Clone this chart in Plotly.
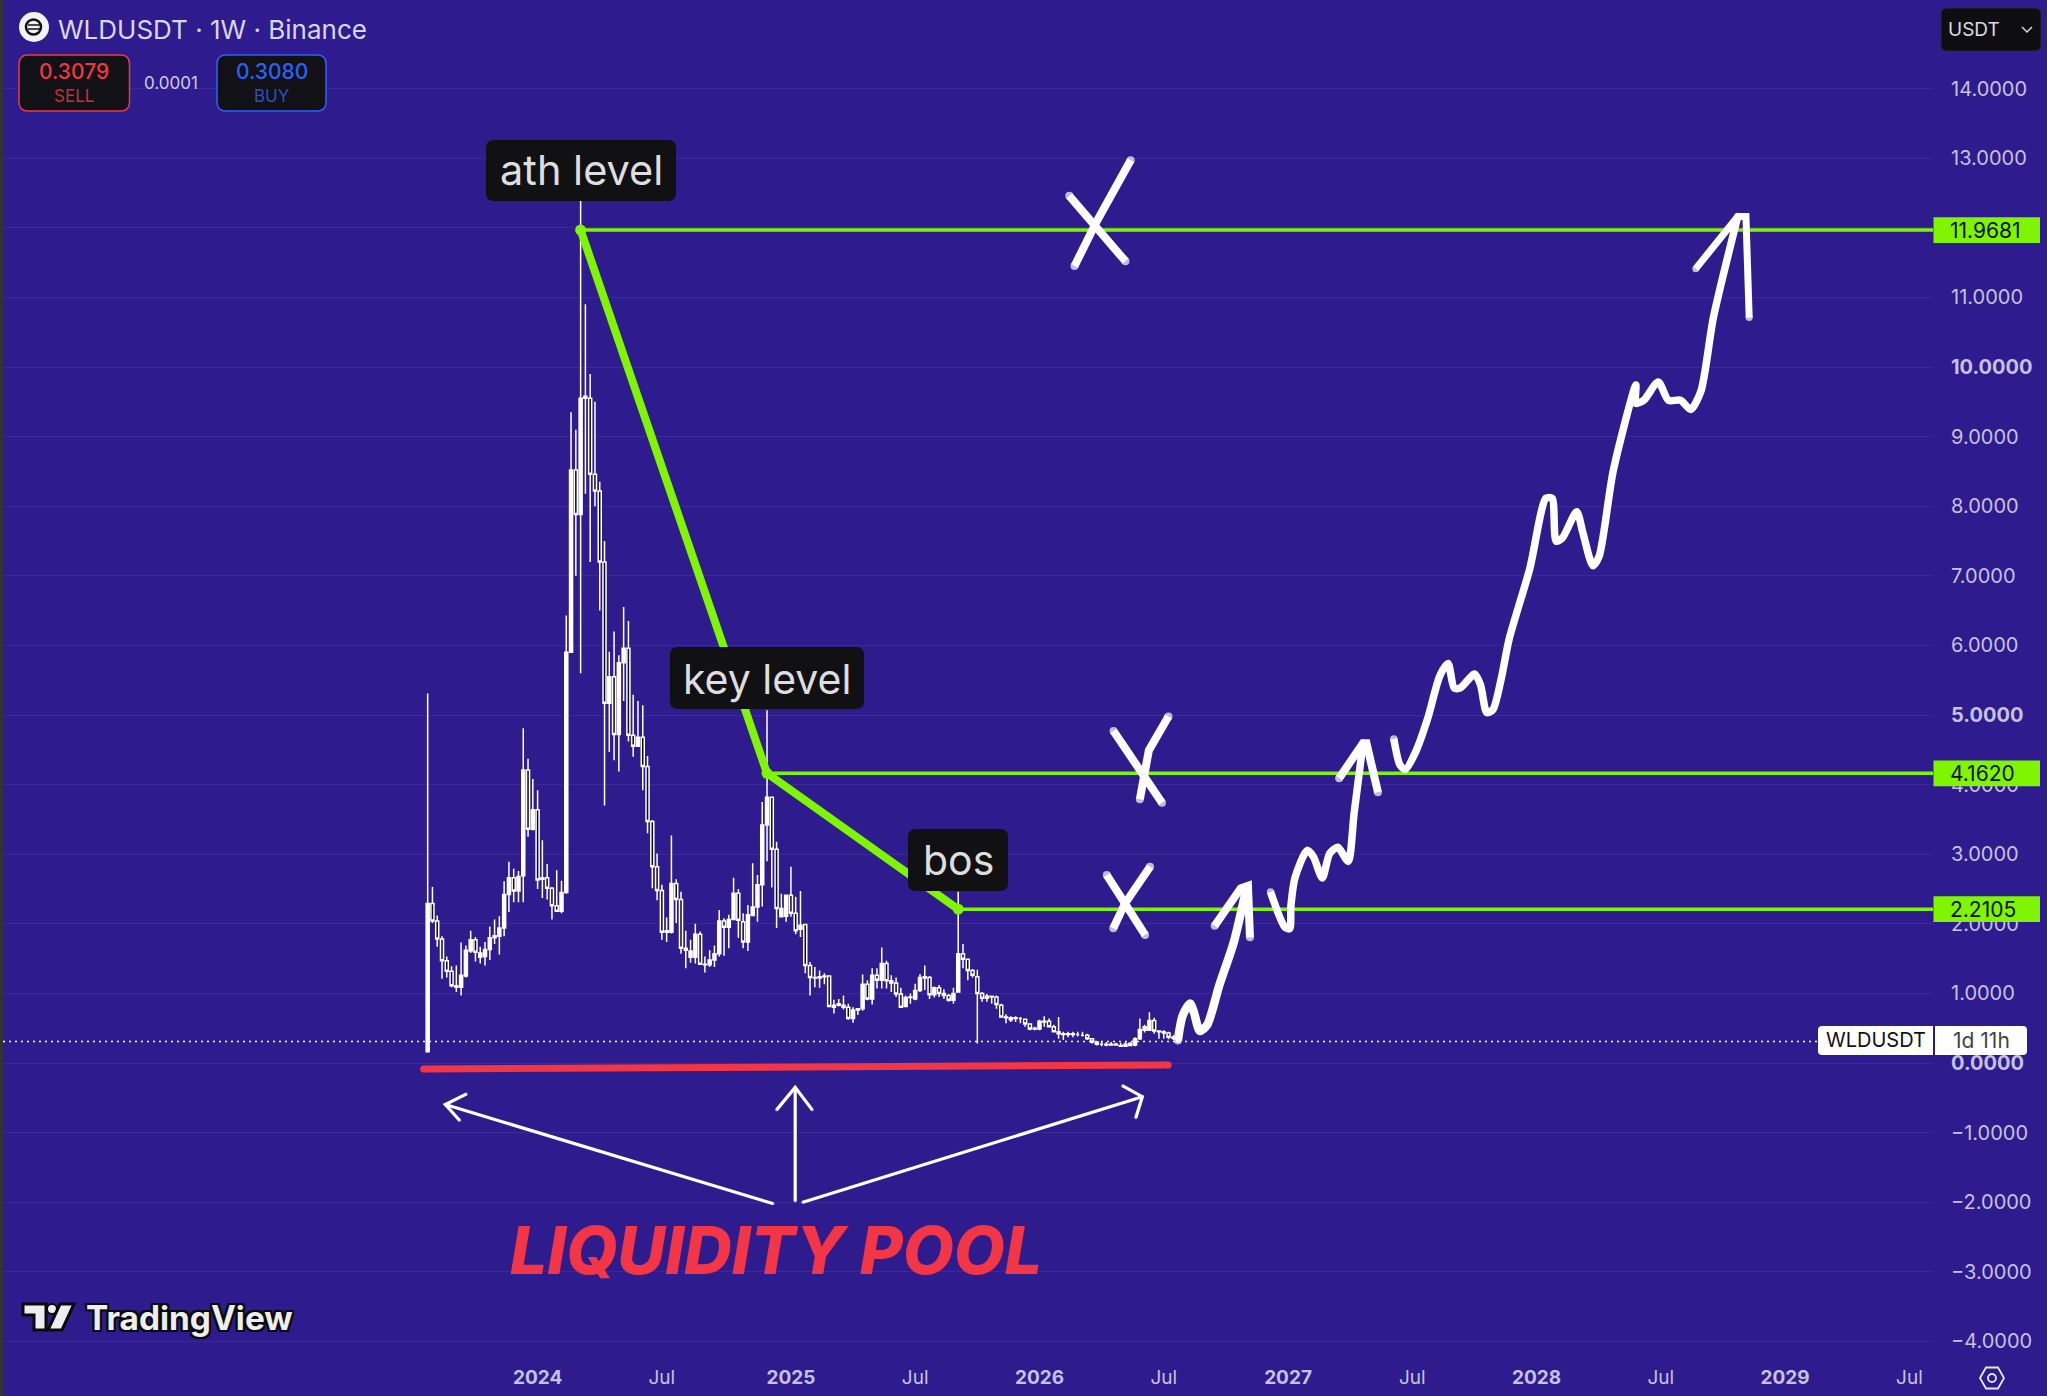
import pandas as pd
import plotly.graph_objects as go

# weekly candles WLDUSDT
first_week = "2023-07-24"
opens = [.16,2.29,2.04,1.78,1.47,1.32,1.09,1.09,1.25,1.61,1.77,1.52,1.53,1.63,1.80,1.82,1.94,2.42,2.66,2.47,
         2.69,4.21,3.36,3.64,2.64,2.66,2.51,2.26,2.18,2.45,5.90,8.52,7.88,9.55,9.55,8.46,8.22,7.20,5.17,5.55,
         4.72,5.75,5.96,4.71,4.55,4.68,4.26,3.47,2.82,2.48,1.88,1.88,2.58,2.35,1.65,1.52,1.52,1.85,1.42,1.41,
         1.48,1.57,2.04,1.95,2.06,2.44,2.03,1.74,2.12,2.24,2.56,3.42,3.82,3.07,2.10,2.11,2.41,2.15,1.92,1.99,
         1.40,1.23,1.22,1.24,1.25,.80,.83,.83,.80,.64,.76,.78,1.13,.92,1.26,1.19,1.43,1.18,1.15,.99,
         .81,.94,.92,1.04,1.22,1.23,.98,1.08,1.00,.97,.90,1.02,1.57,1.49,1.33,1.24,1.00,.93,.96,.95,
         .83,.66,.62,.65,.64,.63,.56,.50,.49,.59,.60,.52,.45,.42,.41,.42,.41,.40,.40,.35,
         .30,.27,.27,.26,.27,.25,.24,.25,.26,.35,.47,.47,.61,.46,.45,.43,.37,.36]
highs = [5.31,2.53,2.12,1.82,1.53,1.39,1.40,1.73,1.69,1.90,1.81,1.67,1.74,1.96,2.06,2.11,2.61,2.89,2.79,2.76,
         4.81,4.37,4.08,3.92,3.20,2.86,2.53,2.77,2.62,6.43,9.35,9.10,12.40,10.90,9.90,9.50,8.35,7.50,5.91,6.20,
         5.86,6.55,6.35,5.29,5.20,5.14,4.41,3.49,3.01,2.56,2.09,3.27,2.64,2.46,1.90,1.77,2.00,1.89,1.53,1.62,
         1.69,2.20,2.08,2.13,2.66,2.50,2.15,2.27,2.87,2.70,3.75,5.07,3.83,3.18,2.43,2.42,2.82,2.39,2.47,2.00,
         1.45,1.38,1.33,1.29,1.26,.91,.92,.97,.85,.80,.78,1.27,1.19,1.36,1.36,1.66,1.47,1.26,1.23,1.08,
         .97,1.00,1.14,1.28,1.40,1.25,1.10,1.12,1.06,.99,1.08,2.46,1.71,1.50,1.35,1.34,1.02,.99,.97,.97,
         .85,.70,.67,.67,.66,.64,.57,.52,.62,.67,.64,.55,.66,.45,.45,.45,.45,.45,.42,.36,
         .31,.30,.30,.30,.29,.29,.30,.30,.37,.64,.55,.73,.65,.47,.47,.45,.40,.38]
lows = [.16,2.01,1.67,1.21,1.23,1.09,1.02,.97,1.23,1.58,1.46,1.43,1.40,1.48,1.71,1.56,1.82,2.17,2.31,2.31,
        2.31,3.25,3.34,2.50,2.37,2.35,2.06,2.17,2.15,2.43,5.90,7.00,5.60,8.18,7.20,8.00,6.50,3.70,4.47,4.35,
        4.19,5.20,4.62,4.40,4.54,3.92,3.30,2.51,2.34,1.77,1.74,1.86,2.01,1.57,1.36,1.44,1.43,1.41,1.30,1.38,
        1.38,1.53,1.54,1.65,2.05,1.80,1.65,1.61,2.11,2.03,2.25,2.90,2.52,1.94,2.09,2.03,2.10,1.85,1.81,1.29,
        .97,1.09,1.08,1.13,.80,.71,.81,.77,.62,.58,.69,.75,.90,.84,1.07,1.07,1.07,1.02,.95,.80,
        .80,.85,.90,1.02,1.05,.92,.94,.95,.92,.88,.85,1.02,1.36,1.19,1.23,.28,.88,.88,.85,.78,
        .65,.57,.59,.59,.57,.52,.47,.47,.47,.52,.51,.44,.35,.33,.37,.37,.38,.38,.33,.28,
        .25,.24,.24,.25,.25,.23,.23,.24,.24,.33,.44,.46,.42,.35,.35,.34,.33,.29]
closes = [2.29,2.04,1.78,1.47,1.32,1.11,1.11,1.26,1.62,1.77,1.59,1.58,1.63,1.80,1.83,1.94,2.42,2.66,2.47,2.68,
          4.21,3.36,3.64,2.63,2.66,2.51,2.26,2.18,2.45,5.90,8.52,7.88,9.55,9.58,8.46,8.22,7.20,5.17,5.55,4.72,
          5.75,5.96,4.71,4.55,4.68,4.26,3.47,2.82,2.48,1.88,1.90,2.58,2.35,1.65,1.62,1.61,1.85,1.42,1.41,1.48,
          1.57,2.04,1.95,2.06,2.44,2.05,1.74,2.13,2.24,2.56,3.42,3.82,3.07,2.22,2.22,2.41,2.15,1.90,1.98,1.40,
          1.23,1.22,1.24,1.25,.81,.83,.85,.80,.64,.76,.78,1.13,.92,1.26,1.19,1.43,1.18,1.15,.99,.80,
          .94,.95,1.04,1.23,1.24,.98,1.08,1.00,.97,.90,1.00,1.57,1.49,1.33,1.26,1.00,.93,.96,.95,.84,
          .66,.65,.65,.64,.64,.56,.49,.49,.60,.60,.52,.45,.42,.41,.42,.41,.41,.40,.35,.30,
          .27,.27,.26,.27,.26,.24,.27,.28,.35,.48,.52,.61,.46,.45,.43,.37,.36,.31]

price_ticks = list(range(-4, 15))
bold_prices = [0, 5, 10]
hidden_prices = [12]  # sits under the 11.9681 tag
# tradingview puts the labels on the first weekly bar of the period
date_ticks = ["2024-01-01","2024-07-01","2025-01-06","2025-07-07","2026-01-05","2026-07-06",
              "2027-01-04","2027-07-05","2028-01-03","2028-07-03","2029-01-01","2029-07-02"]
date_labels = ["<b>2024</b>","Jul","<b>2025</b>","Jul","<b>2026</b>","Jul",
               "<b>2027</b>","Jul","<b>2028</b>","Jul","<b>2029</b>","Jul"]

levels = [11.9681, 4.1620, 2.2105]
last_price = 0.3079

# freehand drawing, in decimal years and price
rise_yr = [2026.579,2026.598,2026.628,2026.644,2026.667,2026.697,2026.746,2026.804,2026.853]
rise_p = [.328,.680,.856,.724,.460,.548,1.120,1.735,2.483]
rise_head_yr = [2026.727,2026.832,2026.861,2026.869]
rise_head_p = [1.973,2.510,2.545,1.806]
mid_yr = [2026.952,2027.009,2027.029,2027.034,2027.050,2027.099,2027.124,2027.160,2027.190,2027.223,2027.264,2027.288,2027.324]
mid_p = [2.457,1.955,1.929,2.263,2.659,3.055,2.967,2.659,3.011,3.099,2.897,3.583,4.595]
mid_head_yr = [2027.228,2027.324,2027.338,2027.384]
mid_head_p = [4.093,4.595,4.595,3.891]
top_yr = [2027.448,2027.472,2027.494,2027.535,2027.584,2027.633,2027.666,2027.691,2027.715,2027.773,2027.797,2027.822,
          2027.847,2027.880,2027.912,2027.995,2028.060,2028.085,2028.101,2028.126,2028.184,2028.208,2028.249,2028.274,
          2028.331,2028.422,2028.422,2028.454,2028.512,2028.553,2028.602,2028.643,2028.684,2028.734,2028.832]
top_p = [4.656,4.287,4.216,4.463,4.947,5.563,5.739,5.387,5.387,5.589,5.431,5.035,
         5.079,5.519,6.091,7.102,8.114,8.114,7.498,7.542,7.921,7.630,7.146,7.278,
         8.510,9.742,9.478,9.522,9.786,9.522,9.522,9.390,9.654,10.710,12.161]
top_head_yr = [2028.663,2028.832,2028.865,2028.873,2028.878]
top_head_p = [11.413,12.161,12.161,11.237,10.710]

cross_strokes = [
    ([2026.142,2026.368],[12.46,11.52]),
    ([2026.163,2026.252,2026.389],[11.45,12.09,12.97]),
    ([2026.320,2026.515],[4.77,3.74]),
    ([2026.426,2026.462,2026.541],[3.79,4.49,4.98]),
    ([2026.293,2026.447],[2.70,1.84]),
    ([2026.319,2026.366,2026.467],[1.935,2.29,2.82]),
]
thin_arrows = [
    ([2024.949,2023.631],[-2.02,-.597]),
    ([2023.715,2023.631,2023.688],[-.447,-.597,-.822]),
    ([2025.070,2026.436],[-2.00,-.484]),
    ([2026.357,2026.436,2026.410],[-.33,-.484,-.784]),
    ([2025.039,2025.039],[-1.98,-.35]),
    ([2024.965,2025.039,2025.107],[-.67,-.35,-.67]),
]
red_yr = [2023.544,2026.540]
red_p = [-.086,-.029]

BG = "#2e1c8e"
GRID = "#3a2a98"
TICK = "#c6c1de"
GREEN = "#7ff500"
RED = "#f23645"
BLUE = "#2962ff"
W, H = 2047, 1396
L, R, B = 3, 114, 44
PX_YEAR = 249.4
YEAR0_PX = 537.6
PX_UNIT = 69.6
ZERO_PX = 1063


def axis_date(px):
    return pd.Timestamp("2024-01-01") + pd.Timedelta(days=(px - YEAR0_PX) / PX_YEAR * 365.25)


def yr(v):
    # the sketch was read at 248.5 px per year from x=537
    return axis_date(537 + (v - 2024) * 248.5)


def yrs(vals):
    return [yr(v) for v in vals]


def xp(px):
    return (px - L) / (W - L - R)


def yp(py):
    return (H - B - py) / (H - B)


def box(x0, y0, x1, y1, r, fill, line=None, lw=1.5):
    a, b, c, d = x0, y0, x1, y1
    path = (f"M{xp(a + r)},{yp(b)} L{xp(c - r)},{yp(b)} Q{xp(c)},{yp(b)} {xp(c)},{yp(b + r)} "
            f"L{xp(c)},{yp(d - r)} Q{xp(c)},{yp(d)} {xp(c - r)},{yp(d)} L{xp(a + r)},{yp(d)} "
            f"Q{xp(a)},{yp(d)} {xp(a)},{yp(d - r)} L{xp(a)},{yp(b + r)} Q{xp(a)},{yp(b)} {xp(a + r)},{yp(b)} Z")
    return dict(type="path", path=path, xref="paper", yref="paper", fillcolor=fill, layer="above",
                line=dict(color=line or fill, width=lw if line else 0))


def poly(points, fill=None, color="white", lw=2):
    path = "M" + " L".join(f"{xp(x)},{yp(y)}" for x, y in points)
    if fill:
        path += " Z"
    return dict(type="path", path=path, xref="paper", yref="paper", layer="above",
                fillcolor=fill or "rgba(0,0,0,0)", line=dict(color=color, width=lw))


def txt(text, px, py, size, color, weight=400, anchor="center", style="normal", shadow=None):
    return dict(text=text, x=xp(px), y=yp(py), xref="paper", yref="paper", showarrow=False, xanchor=anchor,
                yanchor="middle", font=dict(family="Inter", size=size, color=color, weight=weight, style=style,
                                            shadow=shadow or "none"))


def sketch(fig, xs, ys, width, smooth=True):
    # little dots on the ends so the pen strokes have round tips
    sizes = [width] + [0] * (len(xs) - 2) + [width]
    fig.add_trace(go.Scatter(x=yrs(xs), y=ys, mode="lines+markers", hoverinfo="skip",
                             line=dict(color="white", width=width, shape="spline" if smooth else "linear", smoothing=0.7),
                             marker=dict(color="white", size=sizes, line=dict(width=0))))


dates = pd.date_range(first_week, periods=len(opens), freq="7D")

fig = go.Figure()
fig.add_trace(go.Candlestick(x=dates, open=opens, high=highs, low=lows, close=closes, whiskerwidth=0,
                             increasing=dict(fillcolor="white", line=dict(color="white", width=1.5)),
                             decreasing=dict(fillcolor="#0d0d14", line=dict(color="white", width=1.5)),
                             hoverinfo="skip"))

# last price dotted line
fig.add_trace(go.Scatter(x=[axis_date(L), axis_date(W - R)], y=[last_price, last_price], mode="lines", hoverinfo="skip",
                         line=dict(color="white", width=1.5, dash="2px,4px")))

# level lines + green zigzag
ath_i, key_i, bos_i = 32, 71, 111
anchors = [dates[ath_i], dates[key_i], dates[bos_i]]
for d, lev in zip(anchors, levels):
    fig.add_trace(go.Scatter(x=[d, axis_date(W - R)], y=[lev, lev], mode="lines", hoverinfo="skip",
                             line=dict(color=GREEN, width=3.5)))
fig.add_trace(go.Scatter(x=anchors, y=levels, mode="lines+markers", hoverinfo="skip",
                         line=dict(color=GREEN, width=8), marker=dict(color=GREEN, size=11)))

# red liquidity line
fig.add_trace(go.Scatter(x=yrs(red_yr), y=red_p, mode="lines+markers", hoverinfo="skip",
                         line=dict(color=RED, width=7), marker=dict(color=RED, size=7)))

for xs, ys in cross_strokes:
    sketch(fig, xs, ys, 8, smooth=False)
for xs, ys in thin_arrows:
    sketch(fig, xs, ys, 3.2, smooth=False)
sketch(fig, rise_yr, rise_p, 8.5)
sketch(fig, rise_head_yr, rise_head_p, 8, smooth=False)
sketch(fig, mid_yr, mid_p, 7.5)
sketch(fig, mid_head_yr, mid_head_p, 8, smooth=False)
sketch(fig, top_yr, top_p, 7.5)
sketch(fig, top_head_yr, top_head_p, 7, smooth=False)

shapes = [
    dict(type="rect", x0=xp(0), x1=xp(3), y0=yp(0), y1=yp(H), xref="paper", yref="paper", fillcolor="#333333",
         line=dict(width=0), layer="above"),
    # chart header
    dict(type="circle", x0=xp(19), x1=xp(49), y0=yp(12), y1=yp(42), xref="paper", yref="paper", fillcolor="#f2f2f5",
         line=dict(width=0), layer="above"),
    dict(type="circle", x0=xp(26), x1=xp(41), y0=yp(19.5), y1=yp(34.5), xref="paper", yref="paper",
         fillcolor="rgba(0,0,0,0)", line=dict(color="#111", width=2.5), layer="above"),
    poly([(28, 25), (40, 25)], color="#111", lw=1.5),
    poly([(28, 29), (40, 29)], color="#111", lw=1.5),
    box(19, 55, 129.5, 111, 9, "#111116", RED, 1.5),
    box(217, 55, 326, 111, 9, "#111116", BLUE, 1.5),
    box(1941, 8, 2041, 51, 6, "#0e0e12", "#2b2b33", 1),
    poly([(2022, 27), (2027, 32), (2032, 27)], color="#d8d8d8", lw=1.5),
    # callouts
    box(486, 140, 676, 201, 8, "#111114"),
    box(670, 647, 864, 709, 8, "#111114"),
    box(908, 829, 1008, 891, 8, "#111114"),
    # countdown tag
    box(1818, 1026, 2027, 1055, 4, "white"),
    dict(type="line", x0=xp(1934), x1=xp(1934), y0=yp(1026), y1=yp(1055), xref="paper", yref="paper",
         line=dict(color=BG, width=2), layer="above"),
    # settings hexagon
    poly([(1980, 1378), (1986, 1367.5), (1998, 1367.5), (2004, 1378), (1998, 1388.5), (1986, 1388.5)],
         fill="rgba(0,0,0,0)", color="#e8e6f2", lw=1.8),
    dict(type="circle", x0=xp(1988), x1=xp(1996), y0=yp(1374), y1=yp(1382), xref="paper", yref="paper",
         fillcolor="rgba(0,0,0,0)", line=dict(color="#e8e6f2", width=1.8), layer="above"),
    # tradingview mark
    poly([(23, 1304), (46, 1304), (46, 1330), (34, 1330), (34, 1315), (23, 1315)], fill="#eeeeee", color="#0b0b0b", lw=3),
    dict(type="circle", x0=xp(47), x1=xp(57), y0=yp(1304), y1=yp(1314), xref="paper", yref="paper", fillcolor="#eeeeee",
         line=dict(color="#0b0b0b", width=2), layer="above"),
    poly([(60, 1304), (74, 1304), (62, 1330), (48, 1330)], fill="#eeeeee", color="#0b0b0b", lw=3),
]

outline = "-2px 0 #0b0b0b, 2px 0 #0b0b0b, 0 -2px #0b0b0b, 0 2px #0b0b0b, -2px -2px #0b0b0b, 2px 2px #0b0b0b, -2px 2px #0b0b0b, 2px -2px #0b0b0b"
annotations = [
    txt("WLDUSDT · 1W · Binance", 56, 29, 26, "#d9d6ea", anchor="left"),
    txt("0.3079", 74, 71, 21, RED, 500),
    txt("SELL", 74, 96, 17, "#c5303f"),
    txt("0.0001", 171, 83, 17, "#cfcbe4"),
    txt("0.3080", 272, 71, 21, BLUE, 500),
    txt("BUY", 272, 96, 17, "#2850c0"),
    txt("USDT", 1974, 29, 19, "#dcdcdc"),
    txt("ath level", 581, 170, 41.5, "#dedede"),
    txt("key level", 767, 679, 41, "#dedede"),
    txt("bos", 958, 860, 41, "#dedede"),
    txt("LIQUIDITY POOL", 776, 1250, 66, RED, 800, style="italic"),
    txt("TradingView", 84, 1318, 33.4, "#eeeeee", 700, anchor="left", shadow=outline),
    txt("WLDUSDT", 1876, 1040, 20, "#111111"),
    txt("1d 11h", 1951, 1040, 21, "#444444", anchor="left"),
]
# green price tags on the axis
for lev in levels:
    shapes.append(dict(type="rect", xref="paper", yref="y", x0=xp(1933.5), x1=xp(2040), y0=lev - 0.185, y1=lev + 0.185,
                       fillcolor=GREEN, line=dict(width=0), layer="above"))
    annotations.append(dict(text=f"{lev:.4f}", xref="paper", yref="y", x=xp(1948), y=lev, xanchor="left", yanchor="middle",
                            showarrow=False, font=dict(family="Inter", size=21, color="#111111")))

price_labels = []
for p in price_ticks:
    s = f"{abs(p):.4f}"
    if p < 0:
        s = "\u2212" + s
    if p in bold_prices:
        s = f"<b>{s}</b>"
    if p in hidden_prices:
        s = " "
    price_labels.append(s)

fig.update_layout(
    width=W, height=H, margin=dict(l=L, r=R, t=0, b=B),
    paper_bgcolor=BG, plot_bgcolor=BG, showlegend=False, boxgap=0.1,
    font=dict(family="Inter", color=TICK),
    shapes=shapes, annotations=annotations,
    xaxis=dict(type="date", range=[axis_date(L), axis_date(W - R)],
               tickvals=date_ticks, ticktext=date_labels, showgrid=False, zeroline=False, showline=False,
               rangeslider=dict(visible=False), tickfont=dict(size=19, color=TICK), ticklen=0, ticklabelstandoff=12),
    yaxis=dict(range=[(ZERO_PX - (H - B)) / PX_UNIT, ZERO_PX / PX_UNIT], side="right",
               tickvals=price_ticks, ticktext=price_labels, gridcolor=GRID, gridwidth=1, zeroline=False, showline=False,
               tickfont=dict(size=20, color=TICK), ticklen=0, ticklabelstandoff=17),
)

fig.write_html("out.html", config={"displayModeBar": False},
               post_script="document.body.style.margin='0';document.body.style.background='" + BG + "';")
